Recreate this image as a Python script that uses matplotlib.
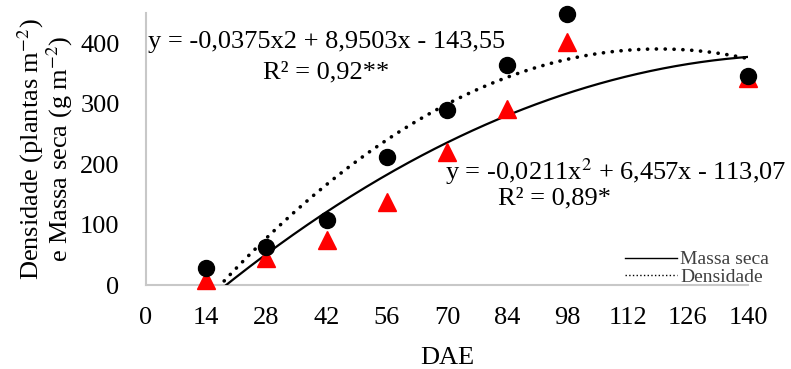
import numpy as np
import matplotlib.pyplot as plt
from matplotlib.lines import Line2D

plt.rcParams['font.family'] = ['Liberation Serif', 'DejaVu Serif']
plt.rcParams['mathtext.fontset'] = 'stix'

# data
dae = [14, 28, 42, 56, 70, 84, 98, 140]
densidade = [28, 63, 107, 212, 289, 364, 448, 345]
massa_seca = [8, 45, 74, 137, 220, 292, 402, 342]

# quadratic trendlines (coefficients as printed on the chart)
coef_dens = [-0.0375, 8.9503, -143.55]
coef_massa = [-0.0211, 6.457, -113.07]

xticks = [0, 14, 28, 42, 56, 70, 84, 98, 112, 126, 140]
yticks = [0, 100, 200, 300, 400]

fig = plt.figure(figsize=(7.91, 3.69), dpi=100)
ax = fig.add_axes([146/791, 1-285/369, 602/791, 272/369])

xs = np.linspace(14, 140, 300)
ax.plot(xs, np.polyval(coef_massa, xs), color='black', lw=1.6, zorder=3)
ax.plot(xs, np.polyval(coef_dens, xs), color='black', lw=2.6,
        linestyle=(0, (0.05, 2.4)), dash_capstyle='round', zorder=3)

ax.plot(dae, massa_seca, linestyle='none', marker='^', ms=13,
        color='#ff0000', zorder=4, clip_on=False)
ax.plot(dae, densidade, linestyle='none', marker='o', ms=11.5,
        color='black', zorder=5, clip_on=False)

ax.set_xlim(0, 140)
ax.set_ylim(0, 450)
ax.set_xticks(xticks)
ax.set_yticks(yticks)
ax.tick_params(length=0, labelsize=19)
ax.tick_params(axis='x', pad=16)
ax.tick_params(axis='y', pad=19)
for s in ['top', 'right']:
    ax.spines[s].set_visible(False)
for s in ['left', 'bottom']:
    ax.spines[s].set_color('#c8c8c8')
    ax.spines[s].set_linewidth(1.5)

ax.set_xlabel('DAE', fontsize=19, labelpad=13)
ax.set_ylabel('Densidade (plantas m$^{-2}$)\ne Massa seca (g m$^{-2}$)',
              fontsize=19, labelpad=4, linespacing=0.9)

ax.text(0.5, 402, 'y = -0,0375x2 + 8,9503x - 143,55', fontsize=19,
        ha='left', va='center')
ax.text(42, 351, 'R² = 0,92**', fontsize=19, ha='center', va='center')
ax.text(69.5, 188, 'y = -0,0211x$^2$ + 6,457x - 113,07', fontsize=19,
        ha='left', va='center', clip_on=False)
ax.text(95, 144, 'R² = 0,89*', fontsize=19, ha='center', va='center')

handles = [Line2D([], [], color='black', lw=1),
           Line2D([], [], color='black', lw=1, linestyle=':')]
fig.legend(handles, ['Massa seca', 'Densidade'], loc='upper right',
           bbox_to_anchor=(779/791, 1-241/369), frameon=False, fontsize=14,
           handlelength=2.7, handletextpad=0.15, labelspacing=0.0,
           borderpad=0, labelcolor='#404040')

fig.savefig('out.png', dpi=100)
